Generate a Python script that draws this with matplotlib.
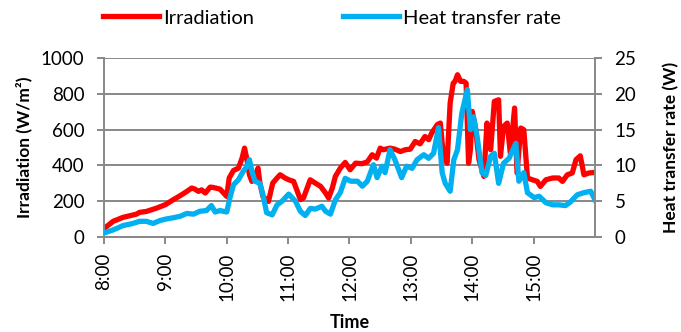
import numpy as np
import matplotlib
matplotlib.use('Agg')
import matplotlib.pyplot as plt

plt.rcParams['font.family'] = ['Lato', 'DejaVu Sans']

# irradiation (W/m2), time in hours
irr_time = [8.01, 8.15, 8.31, 8.42, 8.53, 8.58, 8.69, 8.86, 9.00, 9.13, 9.24, 9.35, 9.43, 9.48,
            9.54, 9.59, 9.65, 9.73, 9.78, 9.89, 10.00, 10.04, 10.11, 10.19, 10.25, 10.29, 10.33,
            10.37, 10.41, 10.46, 10.51, 10.54, 10.59, 10.68, 10.75, 10.82, 10.87, 10.95, 11.01,
            11.09, 11.20, 11.25, 11.36, 11.44, 11.53, 11.61, 11.66, 11.72, 11.77, 11.85, 11.93,
            12.01, 12.10, 12.20, 12.29, 12.37, 12.44, 12.50, 12.55, 12.66, 12.74, 12.83, 12.91,
            12.99, 13.07, 13.15, 13.23, 13.29, 13.34, 13.43, 13.48, 13.53, 13.59, 13.64, 13.69,
            13.72, 13.76, 13.81, 13.86, 13.90, 13.94, 13.97, 14.00, 14.05, 14.11, 14.19, 14.24,
            14.30, 14.36, 14.43, 14.46, 14.51, 14.57, 14.62, 14.69, 14.73, 14.79, 14.84, 14.90,
            14.98, 15.06, 15.11, 15.20, 15.31, 15.41, 15.47, 15.55, 15.63, 15.69, 15.76, 15.82,
            15.90, 15.99]
irr = [50, 88, 110, 119, 128, 138, 143, 162, 181, 209, 231, 255, 274, 268,
       255, 264, 246, 279, 277, 268, 227, 330, 372, 385, 441, 497, 432,
       348, 311, 339, 385, 302, 227, 199, 302, 330, 348, 330, 320,
       311, 209, 218, 320, 302, 283, 246, 218, 274, 339, 385, 417,
       376, 413, 410, 420, 460, 441, 497, 488, 497, 491, 478, 488,
       491, 534, 521, 562, 544, 581, 628, 637, 451, 413, 749, 860,
       870, 907, 870, 870, 860, 413, 488, 702, 618, 432, 339, 637,
       488, 758, 767, 451, 618, 637, 469, 721, 358, 609, 600, 330,
       320, 311, 283, 320, 330, 330, 311, 348, 358, 432, 454, 348,
       358, 361]

# heat transfer rate (W)
q_time = [8.01, 8.15, 8.31, 8.47, 8.58, 8.69, 8.80, 8.91, 9.00, 9.13, 9.24, 9.35, 9.46, 9.56,
          9.67, 9.75, 9.81, 9.89, 10.00, 10.05, 10.11, 10.19, 10.27, 10.33, 10.37, 10.41, 10.46,
          10.54, 10.59, 10.65, 10.74, 10.82, 10.90, 11.01, 11.12, 11.20, 11.28, 11.36, 11.44,
          11.55, 11.61, 11.69, 11.77, 11.85, 11.93, 12.02, 12.13, 12.21, 12.29, 12.39, 12.45,
          12.53, 12.58, 12.66, 12.74, 12.85, 12.93, 13.02, 13.10, 13.21, 13.29, 13.37, 13.45,
          13.51, 13.56, 13.64, 13.70, 13.76, 13.83, 13.92, 13.97, 14.02, 14.08, 14.16, 14.22,
          14.30, 14.36, 14.43, 14.51, 14.60, 14.71, 14.76, 14.84, 14.90, 15.01, 15.09, 15.20,
          15.31, 15.41, 15.52, 15.60, 15.71, 15.82, 15.93, 16.00]
q = [0.6, 1.0, 1.6, 1.9, 2.2, 2.2, 1.9, 2.3, 2.5, 2.7, 2.9, 3.3, 3.2, 3.6,
     3.7, 4.4, 3.5, 3.7, 3.5, 5.4, 7.3, 8.0, 9.2, 9.9, 10.8, 9.2, 7.8,
     7.5, 5.9, 3.4, 3.1, 4.5, 5.0, 6.0, 5.0, 3.6, 3.0, 4.0, 3.9,
     4.3, 3.6, 3.2, 5.2, 6.2, 8.2, 7.8, 7.8, 7.1, 7.8, 10.1, 8.3,
     9.9, 9.0, 12.2, 10.8, 8.3, 9.9, 9.6, 10.8, 11.5, 11.0, 11.7, 15.3,
     9.0, 7.5, 6.4, 10.8, 12.2, 17.3, 20.6, 15.0, 16.8, 14.0, 9.0, 8.6,
     11.3, 11.7, 7.5, 10.3, 11.0, 13.1, 7.8, 9.0, 6.2, 5.5, 5.7, 4.8,
     4.5, 4.5, 4.4, 4.9, 5.9, 6.2, 6.4, 5.2]

hours = list(range(8, 16))
hour_labels = ['%d:00' % h for h in hours]

grey = '#888888'
fig = plt.figure(figsize=(6.81, 3.32), dpi=100)
ax = fig.add_axes([0.1527, 0.286, 0.721, 0.539])
ax2 = ax.twinx()

l1, = ax.plot(irr_time, irr, color='#FF0000', lw=3.8, solid_joinstyle='round')
l2, = ax2.plot(q_time, q, color='#00B0F0', lw=3.8, solid_joinstyle='round')

ax.set_xlim(8, 16)
ax.set_ylim(0, 1000)
ax2.set_ylim(0, 25)
ax.set_yticks(np.arange(0, 1001, 200))
ax2.set_yticks(np.arange(0, 26, 5))
ax.set_xticks(hours)
ax.set_xticklabels(hour_labels, rotation=90)
ax.grid(axis='y', color=grey, lw=1.4)
ax.set_axisbelow(True)

for a in (ax, ax2):
    for s in a.spines.values():
        s.set_color(grey)
        s.set_linewidth(1.4)
    a.spines['top'].set_visible(False)
    a.tick_params(colors=grey, labelcolor='black', labelsize=13.5, length=5, width=1.4, pad=9)
ax.tick_params(axis='x', pad=6)
ax.spines['right'].set_visible(False)
ax2.spines['left'].set_visible(False)

ax.set_ylabel('Irradiation (W/m²)', fontsize=12.5, fontweight='bold', va='center')
ax.yaxis.set_label_coords(-0.163, 0.5)
ax2.set_ylabel('Heat transfer rate (W)', fontsize=12.5, fontweight='bold', va='center')
ax2.yaxis.set_label_coords(1.155, 0.5)
ax.set_xlabel('Time', fontsize=13, fontweight='bold', va='center')
ax.xaxis.set_label_coords(0.5, -0.475)

fig.legend([l1, l2], ['Irradiation', 'Heat transfer rate'], loc='center left',
           bbox_to_anchor=(103 / 681, 1 - 18 / 332), ncol=2, frameon=False, fontsize=14.5,
           handlelength=2.8, handletextpad=0.2, columnspacing=4.4,
           borderpad=0, borderaxespad=0)

fig.savefig('out.png', dpi=100)
